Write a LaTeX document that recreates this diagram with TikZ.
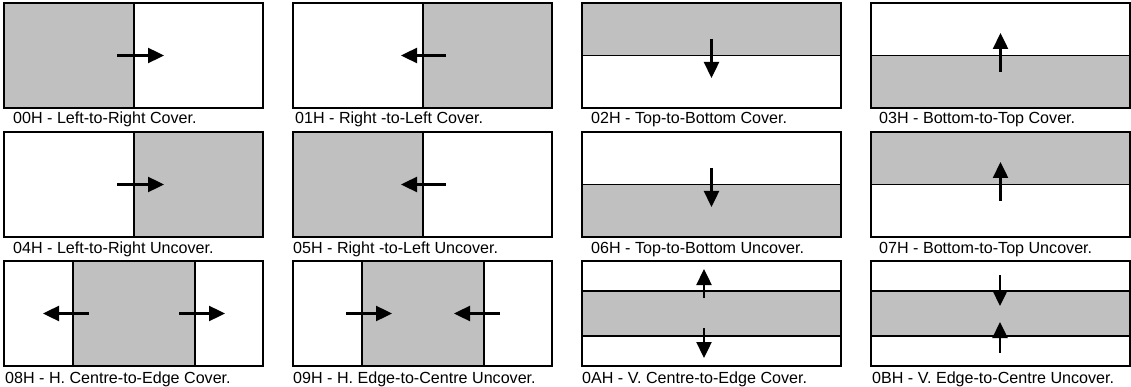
\documentclass[tikz,border=0pt]{standalone}
\usepackage{fontspec}
\setmainfont{Liberation Sans}
\usetikzlibrary{arrows.meta}
\definecolor{silver}{RGB}{192,192,192}
\tikzset{
  panel/.style={line width=2pt},
  cut/.style={line width=1.7pt},
  shade/.style={fill=silver},
  move/.style={line width=2.4pt,-{Triangle[length=16pt,width=15pt]}},
  tag/.style={anchor=base west,inner sep=0pt,font=\fontsize{16.1}{18}\selectfont}
}
\begin{document}
\begin{tikzpicture}[x=1pt,y=-1pt]
\useasboundingbox (0,0) rectangle (1131,387);
% row 1
\begin{scope}[shift={(4,3)}]
\fill[shade] (0,0) rectangle (130,105);
\draw[cut] (130,0) -- (130,105);
\draw[panel] (0,0) rectangle (259,105);
\draw[move] (113,52.5) -- (160,52.5);
\node[tag] (l00) at (9,121) {00H - Left-to-Right Cover.};
\end{scope}
\begin{scope}[shift={(293,3)}]
\fill[shade] (130,0) rectangle (259,105);
\draw[cut] (130,0) -- (130,105);
\draw[panel] (0,0) rectangle (259,105);
\draw[move] (153,52.5) -- (108,52.5);
\node[tag] (l01) at (2,121) {01H - Right -to-Left Cover.};
\end{scope}
\begin{scope}[shift={(582,3)}]
\fill[shade] (0,0) rectangle (259,52.5);
\draw[cut] (0,52.5) -- (259,52.5);
\draw[panel] (0,0) rectangle (259,105);
\draw[move] (129.5,36) -- (129.5,75);
\node[tag] (l02) at (9,121) {02H - Top-to-Bottom Cover.};
\end{scope}
\begin{scope}[shift={(871,3)}]
\fill[shade] (0,52.5) rectangle (259,105);
\draw[cut] (0,52.5) -- (259,52.5);
\draw[panel] (0,0) rectangle (259,105);
\draw[move] (129.5,69) -- (129.5,30);
\node[tag] (l03) at (8,121) {03H - Bottom-to-Top Cover.};
\end{scope}
% row 2
\begin{scope}[shift={(4,132)}]
\fill[shade] (130,0) rectangle (259,105);
\draw[cut] (130,0) -- (130,105);
\draw[panel] (0,0) rectangle (259,105);
\draw[move] (113,52.5) -- (160,52.5);
\node[tag] (l04) at (9,121) {04H - Left-to-Right Uncover.};
\end{scope}
\begin{scope}[shift={(293,132)}]
\fill[shade] (0,0) rectangle (130,105);
\draw[cut] (130,0) -- (130,105);
\draw[panel] (0,0) rectangle (259,105);
\draw[move] (153,52.5) -- (108,52.5);
\node[tag] (l05) at (0,121) {05H - Right -to-Left Uncover.};
\end{scope}
\begin{scope}[shift={(582,132)}]
\fill[shade] (0,52.5) rectangle (259,105);
\draw[cut] (0,52.5) -- (259,52.5);
\draw[panel] (0,0) rectangle (259,105);
\draw[move] (129.5,36) -- (129.5,75);
\node[tag] (l06) at (9,121) {06H - Top-to-Bottom Uncover.};
\end{scope}
\begin{scope}[shift={(871,132)}]
\fill[shade] (0,0) rectangle (259,52.5);
\draw[cut] (0,52.5) -- (259,52.5);
\draw[panel] (0,0) rectangle (259,105);
\draw[move] (129.5,69) -- (129.5,30);
\node[tag] (l07) at (8,121) {07H - Bottom-to-Top Uncover.};
\end{scope}
% row 3
\begin{scope}[shift={(4,261)}]
\fill[shade] (69,0) rectangle (191,105);
\draw[cut] (69,0) -- (69,105);
\draw[cut] (191,0) -- (191,105);
\draw[panel] (0,0) rectangle (259,105);
\draw[move] (85,52.5) -- (39,52.5);
\draw[move] (175,52.5) -- (221,52.5);
\node[tag] (l08) at (1,122) {08H - H. Centre-to-Edge Cover.};
\end{scope}
\begin{scope}[shift={(293,261)}]
\fill[shade] (69,0) rectangle (191,105);
\draw[cut] (69,0) -- (69,105);
\draw[cut] (191,0) -- (191,105);
\draw[panel] (0,0) rectangle (259,105);
\draw[move] (53,52.5) -- (99,52.5);
\draw[move] (207,52.5) -- (161,52.5);
\node[tag] (l09) at (0,122) {09H - H. Edge-to-Centre Uncover.};
\end{scope}
\begin{scope}[shift={(582,261)}]
\fill[shade] (0,30) rectangle (259,75);
\draw[cut] (0,30) -- (259,30);
\draw[cut] (0,75) -- (259,75);
\draw[panel] (0,0) rectangle (259,105);
\draw[move] (122,37) -- (122,8);
\draw[move] (122,67) -- (122,97);
\node[tag] (l0A) at (0,122) {0AH - V. Centre-to-Edge Cover.};
\end{scope}
\begin{scope}[shift={(871,261)}]
\fill[shade] (0,30) rectangle (259,75);
\draw[cut] (0,30) -- (259,30);
\draw[cut] (0,75) -- (259,75);
\draw[panel] (0,0) rectangle (259,105);
\draw[move] (129,14) -- (129,45);
\draw[move] (129,92) -- (129,61);
\node[tag] (l0B) at (1,122) {0BH - V. Edge-to-Centre Uncover.};
\end{scope}
\end{tikzpicture}
\end{document}
